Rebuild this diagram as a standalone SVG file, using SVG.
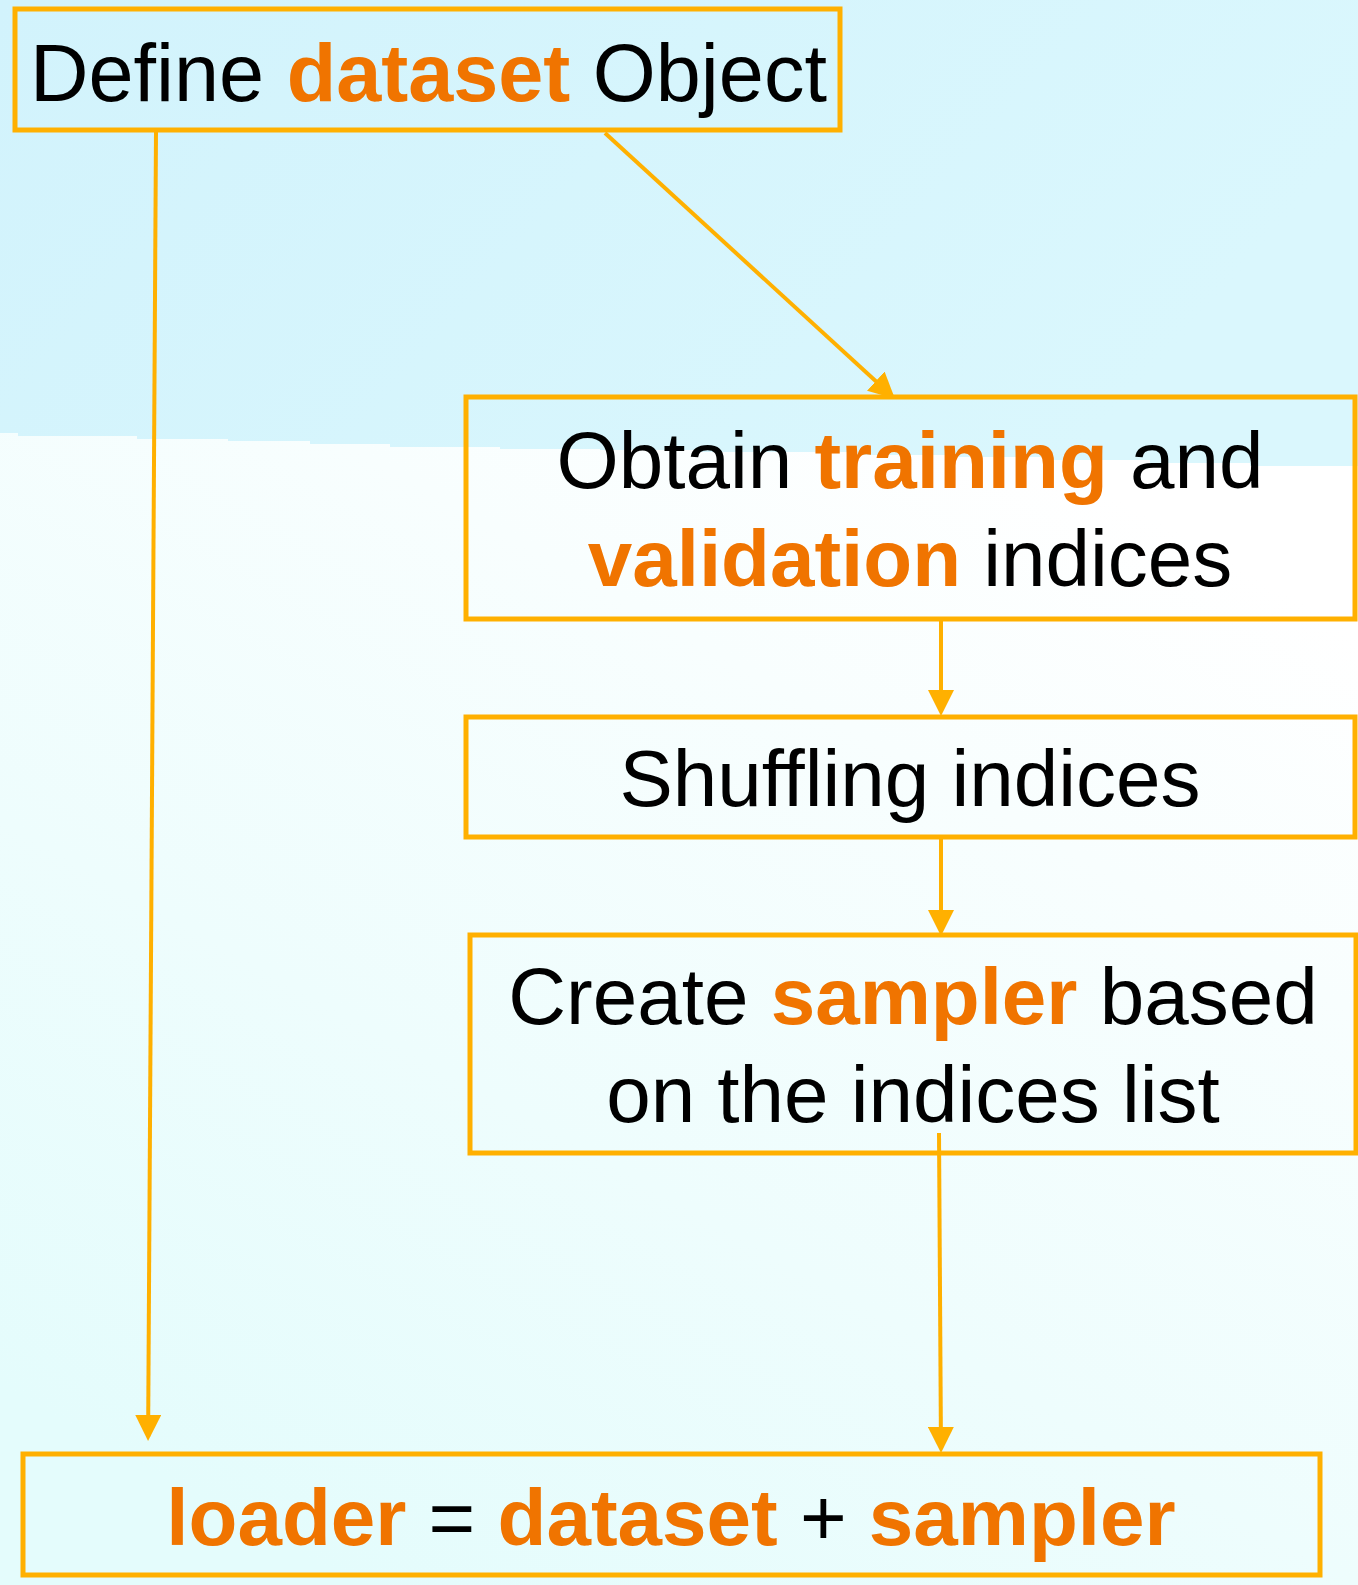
<svg xmlns="http://www.w3.org/2000/svg" width="1358" height="1585" viewBox="0 0 1358 1585">
  <defs>
    <linearGradient id="skyBand" x1="0" y1="0" x2="1" y2="0.3">
      <stop offset="0" stop-color="#d2f3fc"/>
      <stop offset="1" stop-color="#daf7fd"/>
    </linearGradient>
    <linearGradient id="lowerWash" gradientUnits="userSpaceOnUse" x1="1000" y1="430" x2="350" y2="1585">
      <stop offset="0" stop-color="#ffffff"/>
      <stop offset="0.25" stop-color="#f8fefe"/>
      <stop offset="1" stop-color="#e4fcfc"/>
    </linearGradient>
    <marker id="arrow" viewBox="0 0 26 26" refX="22" refY="13" markerWidth="26" markerHeight="26" markerUnits="userSpaceOnUse" orient="auto">
      <path d="M0,0 L26,13 L0,26 z" fill="#ffb000"/>
    </marker>
    <style>
      .box { fill: none; stroke: #ffb000; stroke-width: 5; }
      .edge { fill: none; stroke: #ffb000; stroke-width: 4; marker-end: url(#arrow); }
      .lbl { font-family: "Liberation Sans", Arial, Helvetica, sans-serif; font-size: 80px; fill: #000000; }
      .hl { font-weight: bold; fill: #f07400; }
    </style>
  </defs>

  <!-- background: white wash with a cyan band across the top -->
  <rect x="0" y="0" width="1358" height="1585" fill="url(#lowerWash)"/>
  <polygon fill="url(#skyBand)" points="0,0 1358,0 1358,466 1250,466 1250,463 1150,463 1150,460 1050,460 1050,457 950,457 950,455 850,455 850,452 700,452 700,450 600,450 600,449 500,449 500,447 390,447 390,444 310,444 310,441 228,441 228,439 137,439 137,436 18,436 18,433 0,433"/>

  <!-- connectors -->
  <g id="connectors">
    <line class="edge" x1="156" y1="131" x2="148.1" y2="1437"/>
    <line class="edge" x1="605" y1="133" x2="892" y2="396"/>
    <line class="edge" x1="941" y1="619" x2="941" y2="712"/>
    <line class="edge" x1="941" y1="837" x2="941" y2="932"/>
    <line class="edge" x1="939" y1="1133" x2="941" y2="1449"/>
  </g>

  <g id="node-dataset">
    <rect class="box" x="15" y="9" width="825" height="121"/>
    <text class="lbl" x="30" y="101" style="font-size:81px">Define <tspan class="hl">dataset</tspan> Object</text>
  </g>

  <g id="node-indices">
    <rect class="box" x="466" y="397" width="889" height="222"/>
    <text class="lbl" x="910" y="488" text-anchor="middle">Obtain <tspan class="hl">training</tspan> and</text>
    <text class="lbl" x="910" y="586" text-anchor="middle"><tspan class="hl">validation</tspan> indices</text>
  </g>

  <g id="node-shuffle">
    <rect class="box" x="466" y="717" width="889" height="120"/>
    <text class="lbl" x="910" y="806" text-anchor="middle">Shuffling indices</text>
  </g>

  <g id="node-sampler">
    <rect class="box" x="470" y="935" width="886" height="218"/>
    <text class="lbl" x="913" y="1024" text-anchor="middle">Create <tspan class="hl">sampler</tspan> based</text>
    <text class="lbl" x="913" y="1122" text-anchor="middle">on the indices list</text>
  </g>

  <g id="node-loader">
    <rect class="box" x="23" y="1454" width="1297" height="121"/>
    <text class="lbl" x="671" y="1545" text-anchor="middle"><tspan class="hl">loader</tspan> = <tspan class="hl">dataset</tspan> + <tspan class="hl">sampler</tspan></text>
  </g>
</svg>
